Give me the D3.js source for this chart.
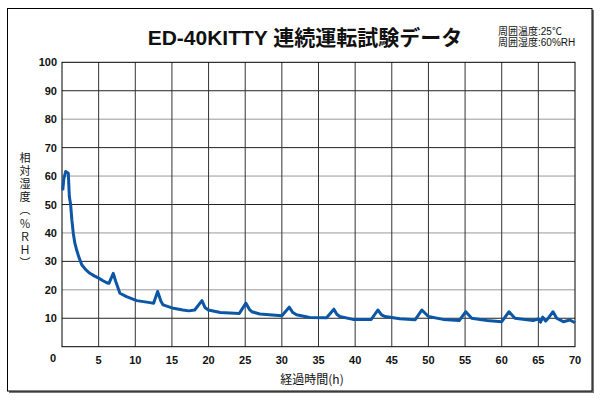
<!DOCTYPE html>
<html>
<head>
<meta charset="utf-8">
<script src="https://cdn.jsdelivr.net/npm/d3@7"></script>
<style>
body { margin: 0; background: #fff; }
</style>
</head>
<body>
<script>
'use strict';
// elapsed hours and relative humidity (%RH)
let hours = [0.1, 0.25, 0.5, 0.86, 1.0, 1.18, 1.35, 1.54, 1.75, 2.0, 2.3, 2.7, 3.2, 3.8, 4.4, 5.0, 5.6, 6.1, 6.4, 7.0, 7.3, 7.9,
	8.8, 10.2, 12.0, 12.5, 13.05, 13.5, 13.8, 15.2, 16.5, 17.3, 18.1, 19.1, 19.5, 19.97, 21.6, 24.2, 25.1, 25.6, 25.9, 27.0,
	30.0, 31.0, 31.5, 32.0, 33.8, 36.1, 37.1, 37.5, 37.9, 39.7, 42.2, 43.1, 43.6, 44.1, 46.1, 48.2, 49.1, 50.0, 52.0, 54.2,
	55.1, 55.9, 58.0, 60.0, 61.0, 61.8, 64.3, 65.0, 65.3, 65.6, 66.0, 66.4, 67.0, 67.5, 68.4, 69.3, 70];
let humidity = [55, 59, 61.6, 61, 52.8, 49.9, 44.5, 39.9, 36.5, 34, 31.5, 28.8, 27.2, 25.8, 24.9, 24.1, 23.2, 22.5, 22.3, 25.8, 23.2, 18.8,
	17.6, 16.2, 15.5, 15.3, 19.4, 16.0, 14.7, 13.5, 12.9, 12.6, 12.9, 16.2, 13.8, 12.9, 12, 11.7, 15.3, 13.0, 12.3, 11.5,
	10.9, 13.9, 12.0, 11.2, 10.3, 10.2, 13.2, 11.4, 10.6, 9.6, 9.6, 12.9, 11.2, 10.6, 9.8, 9.5, 12.9, 10.6, 9.6, 9.2,
	12.3, 10, 9.2, 8.8, 12.3, 10, 9.2, 9.8, 8.6, 10.4, 9.0, 10.2, 12.3, 10.0, 8.8, 9.4, 8.4];

let xTicks = [5, 10, 15, 20, 25, 30, 35, 40, 45, 50, 55, 60, 65, 70];
let yTicks = [10, 20, 30, 40, 50, 60, 70, 80, 90, 100];

let svg = d3.select("body").append("svg")
	.attr("width", 600)
	.attr("height", 400);

// outer frame with a little shadow
svg.append("rect")
	.attr("x", 9).attr("y", 10)
	.attr("width", 585).attr("height", 383)
	.attr("fill", "#777");
svg.append("rect")
	.attr("x", 7.5).attr("y", 8.5)
	.attr("width", 584.5).attr("height", 382.5)
	.attr("fill", "#fff")
	.attr("stroke", "#000");

let x = d3.scaleLinear().domain([0, 70]).range([62, 575]);
let y = d3.scaleLinear().domain([0, 100]).range([346.7, 62.3]);

// grid
svg.selectAll("line.hgrid")
	.data(yTicks.slice(0, -1))
	.enter().append("line")
		.attr("class", "hgrid")
		.attr("x1", x(0)).attr("x2", x(70))
		.attr("y1", d => y(d)).attr("y2", d => y(d))
		.attr("stroke", d => (d % 20 == 0) ? "#999" : "#222")
		.attr("stroke-width", 1);

svg.selectAll("line.vgrid")
	.data(xTicks.slice(0, -1))
	.enter().append("line")
		.attr("class", "vgrid")
		.attr("y1", y(0)).attr("y2", y(100))
		.attr("x1", d => x(d)).attr("x2", d => x(d))
		.attr("stroke", "#333")
		.attr("stroke-width", 1);

svg.append("rect")
	.attr("x", x(0)).attr("y", y(100))
	.attr("width", x(70) - x(0)).attr("height", y(0) - y(100))
	.attr("fill", "none")
	.attr("stroke", "#000");

// tick labels
let tickFont = "'Liberation Sans', Arial, sans-serif";
let jpFont = "'Liberation Sans', 'Noto Sans CJK JP', sans-serif";
svg.selectAll("text.ylab")
	.data(yTicks)
	.enter().append("text")
		.attr("class", "ylab")
		.attr("x", 57)
		.attr("y", d => y(d) + 4)
		.attr("text-anchor", "end")
		.attr("font-family", tickFont)
		.attr("font-size", 11)
		.attr("font-weight", "bold")
		.attr("fill", "#111")
		.text(d => d);

svg.selectAll("text.xlab")
	.data(xTicks)
	.enter().append("text")
		.attr("class", "xlab")
		.attr("x", d => x(d))
		.attr("y", 364)
		.attr("text-anchor", "middle")
		.attr("font-family", tickFont)
		.attr("font-size", 11)
		.attr("font-weight", "bold")
		.attr("fill", "#111")
		.text(d => d);

svg.append("text")
	.attr("x", 53).attr("y", 362)
	.attr("text-anchor", "middle")
	.attr("font-family", tickFont)
	.attr("font-size", 11)
	.attr("font-weight", "bold")
	.attr("fill", "#111")
	.text("0");

// axis titles
svg.append("text")
	.attr("x", 312).attr("y", 384)
	.attr("text-anchor", "middle")
	.attr("font-family", "'Noto Sans CJK JP', sans-serif")
	.attr("font-size", 12)
	.attr("fill", "#111")
	.text("経過時間(h)");

svg.append("text")
	.attr("x", 25).attr("y", 152)
	.attr("font-family", "'Noto Sans CJK JP', sans-serif")
	.attr("font-size", 11)
	.attr("letter-spacing", 2.2)
	.attr("fill", "#111")
	.style("writing-mode", "vertical-rl")
	.style("text-orientation", "mixed")
	.text("相対湿度（％ＲＨ）");

// title and conditions
svg.append("text")
	.attr("x", 305).attr("y", 45)
	.attr("text-anchor", "middle")
	.attr("font-family", jpFont)
	.attr("font-size", 21)
	.attr("font-weight", "bold")
	.attr("fill", "#111")
	.text("ED-40KITTY 連続運転試験データ");

svg.append("text")
	.attr("x", 498).attr("y", 35)
	.attr("font-family", jpFont)
	.attr("font-size", 10)
	.attr("fill", "#111")
	.text("周囲温度:25℃");
svg.append("text")
	.attr("x", 498).attr("y", 46)
	.attr("font-family", jpFont)
	.attr("font-size", 10)
	.attr("fill", "#111")
	.text("周囲湿度:60%RH");

// data line
let line = d3.line()
	.x((d, i) => x(hours[i]))
	.y(d => y(d));

svg.append("path")
	.datum(humidity)
	.attr("d", line)
	.attr("fill", "none")
	.attr("stroke", "#0c56a6")
	.attr("stroke-width", 3)
	.attr("stroke-linejoin", "round");
</script>
</body>
</html>
